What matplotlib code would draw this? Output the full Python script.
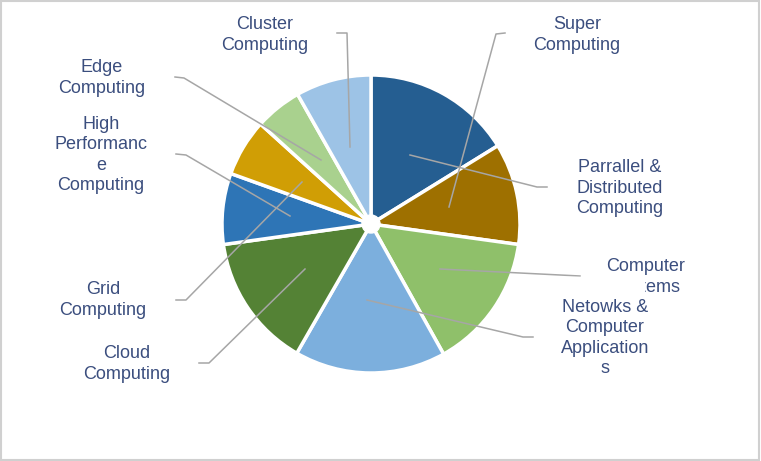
import matplotlib.pyplot as plt
from matplotlib.patches import Circle, Rectangle

# slice shares, clockwise from 12 o'clock (in %)
categories = [
    "Super\nComputing",
    "Parrallel &\nDistributed\nComputing",
    "Computer\nSystems",
    "Netowks &\nComputer\nApplication\ns",
    "Cloud\nComputing",
    "Grid\nComputing",
    "High\nPerformanc\ne\nComputing",
    "Edge\nComputing",
    "Cluster\nComputing",
]
shares = [16.2, 11.0, 14.7, 16.4, 14.5, 7.7, 6.2, 5.1, 8.2]
colors = [
    "#255e91", "#9e7000", "#8fc06a", "#7cafdd", "#548235",
    "#2e75b6", "#d09e05", "#a9d18e", "#9dc3e6",
]

# label centres and leader lines, in pixels from the top-left corner
label_pos = [
    (577, 35), (620, 188), (646, 277), (605, 338), (127, 364),
    (103, 300), (101, 155), (102, 78), (265, 35),
]
leaders = [
    [(505, 33), (496, 34), (449, 207)],
    [(547, 187), (537, 187), (410, 155)],
    [(580, 276), (440, 269)],
    [(533, 337), (523, 337), (367, 300)],
    [(199, 363), (209, 363), (305, 269)],
    [(176, 300), (186, 300), (302, 182)],
    [(176, 154), (186, 155), (290, 216)],
    [(175, 77), (184, 78), (321, 160)],
    [(337, 33), (347, 33), (350, 147)],
]

W, H = 761, 461
TEXT_COLOR = "#3b4e7e"
LINE_COLOR = "#a6a6a6"

plt.rcParams["font.family"] = ["Liberation Sans", "DejaVu Sans"]

fig = plt.figure(figsize=(W / 100, H / 100), dpi=100)
ax = fig.add_axes([0, 0, 1, 1])


def px(x, y):
    return x, H - y


ax.pie(
    shares,
    colors=colors,
    startangle=90,
    counterclock=False,
    center=px(371, 224),
    radius=149,
    frame=True,
    wedgeprops={"edgecolor": "white", "linewidth": 2.5},
)
ax.set_xlim(0, W)
ax.set_ylim(0, H)
ax.set_aspect("equal")
ax.axis("off")
ax.add_patch(Circle(px(371, 224), 9, color="white", zorder=3))

for pts in leaders:
    xs = [p[0] for p in pts]
    ys = [H - p[1] for p in pts]
    ax.plot(xs, ys, color=LINE_COLOR, linewidth=1.1, zorder=4)

for i, (label, (x, y)) in enumerate(zip(categories, label_pos)):
    z = 7 if i == 3 else 5
    ax.text(*px(x, y), label, ha="center", va="center", fontsize=13,
            color=TEXT_COLOR, linespacing=1.28, zorder=z)

# the Networks label box sits on top of the Computer Systems label
ax.add_patch(Rectangle(px(556, 382), 88, 105, color="white", zorder=6))

fig.patches.append(Rectangle((0.001, 0.002), 0.996, 0.995, transform=fig.transFigure,
                             fill=False, edgecolor="#d0d0d0", linewidth=1.5))

fig.savefig("out.png", dpi=100)
